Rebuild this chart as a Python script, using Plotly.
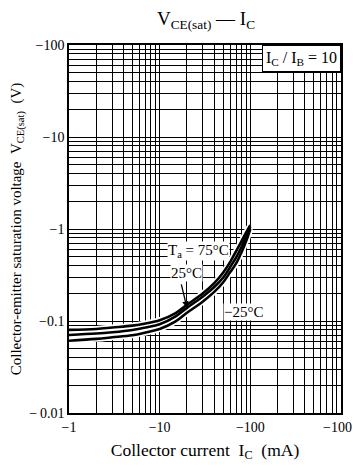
import numpy as np
import plotly.graph_objects as go

# Collector current magnitude (mA); axis shows negative values
ic = [1, 2, 3, 5, 7, 10, 15, 20, 30, 40, 50, 60, 70, 80, 90, 100]
# |VCE(sat)| (V) for each ambient temperature
v_75 = [0.080, 0.082, 0.085, 0.089, 0.094, 0.102, 0.122, 0.150, 0.200, 0.258, 0.335, 0.440, 0.580, 0.740, 0.920, 1.100]
v_25 = [0.0705, 0.073, 0.0755, 0.080, 0.085, 0.092, 0.112, 0.139, 0.185, 0.234, 0.295, 0.387, 0.495, 0.642, 0.830, 1.050]
v_m25 = [0.061, 0.064, 0.0665, 0.070, 0.075, 0.082, 0.099, 0.123, 0.163, 0.207, 0.262, 0.340, 0.425, 0.560, 0.740, 1.000]

x_decades = [1, 10, 100, 1000]
x_ticktext = ["\u22121", "\u221210", "\u2212100", "\u22121000"]
y_decades = [0.01, 0.1, 1, 10, 100]
y_ticktext = ["\u2212\u20090.01", "\u22120.1", "\u22121", "\u221210", "\u2212100"]

FONT = "Liberation Serif"
NB = "\u00a0"


def grid_vals(decades):
    vals = []
    for d in decades[:-1]:
        for m in range(1, 10):
            vals.append(d * m)
    vals.append(decades[-1])
    return vals


xv = grid_vals(x_decades)
yv = grid_vals(y_decades)
xt = [x_ticktext[x_decades.index(v)] if v in x_decades else "" for v in xv]
yt = [y_ticktext[y_decades.index(v)] if v in y_decades else "" for v in yv]

fig = go.Figure()
for v in (v_75, v_25, v_m25):
    fig.add_trace(go.Scatter(x=ic, y=v, mode="lines", line=dict(color="white", width=6, shape="spline"),
                             hoverinfo="skip", showlegend=False))
for v in (v_75, v_25, v_m25):
    fig.add_trace(go.Scatter(x=ic, y=v, mode="lines", line=dict(color="black", width=2.6, shape="spline"),
                             showlegend=False))

ann_font = dict(family=FONT, size=15, color="black")
fig.add_annotation(x=np.log10(27), y=-0.239, text="T<sub>a</sub> = 75°C", showarrow=False,
                   font=ann_font, bgcolor="white", borderpad=0)
fig.add_annotation(x=np.log10(20), y=-0.478, text="25°C", showarrow=False,
                   font=ann_font, bgcolor="white", borderpad=0)
fig.add_annotation(x=np.log10(85), y=-0.902, text="\u221225°C", showarrow=False,
                   font=ann_font, bgcolor="white", borderpad=0)
# arrow from 25°C label to its curve
fig.add_annotation(x=np.log10(ic[7]), y=np.log10(v_25[7]), text="", showarrow=True,
                   ax=-6, ay=-25, arrowhead=2, arrowsize=1, arrowwidth=1.3, arrowcolor="black")
fig.add_annotation(xref="paper", yref="paper", x=1, y=1, xanchor="right", yanchor="top",
                   text="I<sub>C</sub> / I<sub>B</sub> = 10", showarrow=False,
                   font=dict(family=FONT, size=16, color="black"), bgcolor="white",
                   bordercolor="black", borderwidth=1, borderpad=3)

axis_common = dict(type="log", showgrid=True, gridcolor="black", gridwidth=1, showline=True,
                   linecolor="black", linewidth=1.5, mirror=True, ticks="", zeroline=False,
                   tickmode="array", ticklabeloverflow="allow", automargin=False,
                   tickfont=dict(family=FONT, size=14, color="black"))
fig.update_xaxes(range=[0, 3], tickvals=xv, ticktext=xt,
                 title=dict(text="Collector current" + NB * 2 + "I<sub>C</sub>" + NB * 2 + "(mA)",
                            font=dict(family=FONT, size=17.5, color="black"), standoff=10),
                 **axis_common)
fig.update_yaxes(range=[-2, 2], tickvals=yv, ticktext=yt,
                 title=dict(text="Collector-emitter saturation voltage" + NB * 2 + "V<sub>CE(sat)</sub>"
                                 + NB * 2 + "(V)",
                            font=dict(family=FONT, size=15, color="black"), standoff=6),
                 **axis_common)

# the page body adds an 8px offset, so the figure is 8px smaller than the window
fig.update_layout(
    width=352, height=462,
    margin=dict(l=61, r=19, t=37, b=57),
    paper_bgcolor="white", plot_bgcolor="white",
    title=dict(text="V<sub>CE(sat)</sub> \u2014 I<sub>C</sub>", x=0.5625, xanchor="center",
               y=0.978, yanchor="middle",
               font=dict(family=FONT, size=19, color="black")),
    showlegend=False,
)

fig.write_html("out.html")
